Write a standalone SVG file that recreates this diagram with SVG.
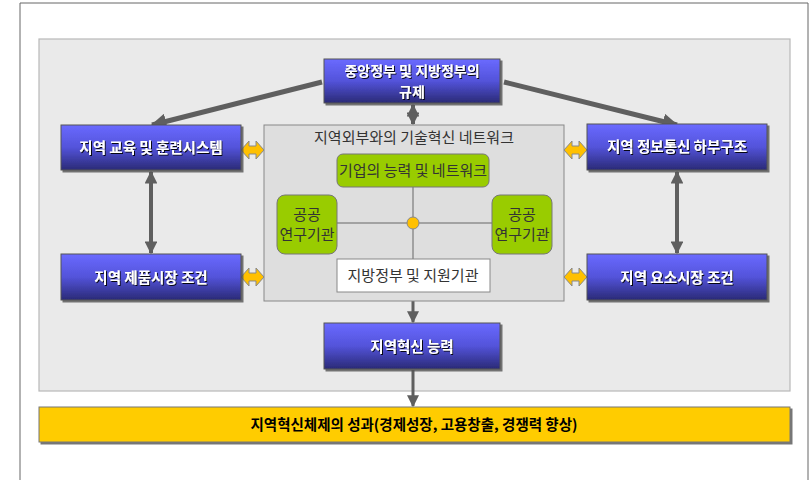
<svg xmlns="http://www.w3.org/2000/svg" width="812" height="480" viewBox="0 0 812 480">
<defs>
<linearGradient id="blue" x1="0" y1="0" x2="0" y2="1">
<stop offset="0" stop-color="#6a6aff"/>
<stop offset="0.5" stop-color="#5353da"/>
<stop offset="1" stop-color="#2a2a76"/>
</linearGradient>
<filter id="sh" x="-10%" y="-10%" width="130%" height="140%">
<feDropShadow dx="2" dy="2" stdDeviation="0.6" flood-color="#555" flood-opacity="0.8"/>
</filter>
<filter id="tsh" x="-10%" y="-20%" width="130%" height="160%">
<feDropShadow dx="1" dy="1" stdDeviation="0.3" flood-color="#000" flood-opacity="0.9"/>
</filter>
<marker id="ah" viewBox="0 0 10 10" refX="9" refY="5" markerWidth="3.2" markerHeight="3.2" orient="auto-start-reverse">
<path d="M0,0 L10,5 L0,10 z" fill="#5f5f5f"/>
</marker>
<marker id="ah2" viewBox="0 0 10 10" refX="9" refY="5" markerWidth="4" markerHeight="4" orient="auto-start-reverse">
<path d="M0,0 L10,5 L0,10 z" fill="#5f5f5f"/>
</marker>
<path id="yarrow" d="M0,0 L8,-9 L8,-4 L15,-4 L15,-9 L23,0 L15,9 L15,4 L8,4 L8,9 Z"/>
</defs>
<style>
.blue{fill:url(#blue);stroke:#555;stroke-width:1;filter:url(#sh)}
.bt{font-family:"Noto Sans CJK KR","Noto Sans",sans-serif;font-weight:bold;font-size:14.5px;fill:#fff;text-anchor:middle;filter:url(#tsh)}
.green{fill:#99cc00;stroke:#777;stroke-width:1}
.gt{font-family:"Noto Sans CJK KR","Noto Sans",sans-serif;font-size:15px;fill:#333;text-anchor:middle}
.conn{stroke:#5f5f5f;fill:none}
.ya{fill:#ffc000;stroke:#888;stroke-width:1}
</style>
<rect x="0" y="0" width="812" height="480" fill="#fff"/>
<path d="M20,480 L20,3 L808,3 L808,480" fill="none" stroke="#666" stroke-width="1"/>
<rect id="panel" x="39" y="39" width="751" height="352" fill="#eaeaea" stroke="#b8b8b8" stroke-width="1.2"/>

<g id="connectors">
<line class="conn" x1="322" y1="82" x2="152" y2="125" stroke-width="5" marker-end="url(#ah)"/>
<line class="conn" x1="504" y1="82" x2="677" y2="125" stroke-width="5" marker-end="url(#ah)"/>
<line class="conn" x1="413" y1="105" x2="413" y2="124" stroke-width="4" marker-start="url(#ah)" marker-end="url(#ah)"/>
<line class="conn" x1="151" y1="172" x2="151" y2="253" stroke-width="4" marker-start="url(#ah)" marker-end="url(#ah)"/>
<line class="conn" x1="677" y1="172" x2="677" y2="253" stroke-width="4" marker-start="url(#ah)" marker-end="url(#ah)"/>
<line class="conn" x1="413" y1="292" x2="413" y2="322" stroke-width="3" marker-end="url(#ah2)"/>
<line class="conn" x1="413" y1="370" x2="413" y2="406" stroke-width="3" marker-end="url(#ah2)"/>
<use href="#yarrow" class="ya" transform="translate(241,150)"/>
<use href="#yarrow" class="ya" transform="translate(241,277)"/>
<use href="#yarrow" class="ya" transform="translate(564,150)"/>
<use href="#yarrow" class="ya" transform="translate(564,277)"/>
</g>

<g id="network">
<rect x="264" y="125" width="300" height="176" fill="#dedede" stroke="#888" stroke-width="1"/>
<text class="gt" x="414" y="142.5">지역외부와의 기술혁신 네트워크</text>
<line x1="413" y1="187" x2="413" y2="259" stroke="#666" stroke-width="1"/>
<line x1="337" y1="223" x2="492" y2="223" stroke="#666" stroke-width="1"/>
<circle cx="413" cy="223" r="6" fill="#ffc000" stroke="#888" stroke-width="1"/>
</g>

<g id="firm">
<rect class="green" x="337" y="154" width="152" height="33" rx="6"/>
<text class="gt" x="413" y="176">기업의 능력 및 네트워크</text>
</g>
<g id="pri-left">
<rect class="green" x="277" y="195" width="60" height="59" rx="8"/>
<text class="gt" x="307" y="220">공공</text>
<text class="gt" x="307" y="240">연구기관</text>
</g>
<g id="pri-right">
<rect class="green" x="492" y="195" width="60" height="59" rx="8"/>
<text class="gt" x="522" y="220">공공</text>
<text class="gt" x="522" y="240">연구기관</text>
</g>
<g id="local-gov">
<rect x="337" y="259" width="153" height="33" fill="#fff" stroke="#888" stroke-width="1"/>
<text class="gt" x="413" y="281">지방정부 및 지원기관</text>
</g>

<g id="regulation">
<rect class="blue" x="324" y="59" width="176" height="44"/>
<text class="bt" x="412" y="76" style="font-size:14px">중앙정부 및 지방정부의</text>
<text class="bt" x="412" y="97" style="font-size:14px">규제</text>
</g>
<g id="edu">
<rect class="blue" x="61" y="125" width="180" height="45"/>
<text class="bt" x="151" y="152.5">지역 교육 및 훈련시스템</text>
</g>
<g id="product">
<rect class="blue" x="61" y="254" width="180" height="46"/>
<text class="bt" x="151" y="282.5">지역 제품시장 조건</text>
</g>
<g id="ict">
<rect class="blue" x="587" y="124" width="180" height="46"/>
<text class="bt" x="677" y="152">지역 정보통신 하부구조</text>
</g>
<g id="factor">
<rect class="blue" x="587" y="254" width="180" height="46"/>
<text class="bt" x="677" y="282.5">지역 요소시장 조건</text>
</g>
<g id="capacity">
<rect class="blue" x="324" y="323" width="176" height="46"/>
<text class="bt" x="412" y="351.5">지역혁신 능력</text>
</g>
<g id="outcome">
<rect x="39" y="407" width="751" height="35" fill="#ffcc00" stroke="#777" stroke-width="1" filter="url(#sh)"/>
<text x="414" y="429.5" font-family="'Noto Sans CJK KR','Noto Sans',sans-serif" font-weight="bold" font-size="14.5" fill="#000" text-anchor="middle">지역혁신체제의 성과(경제성장, 고용창출, 경쟁력 향상)</text>
</g>
</svg>
